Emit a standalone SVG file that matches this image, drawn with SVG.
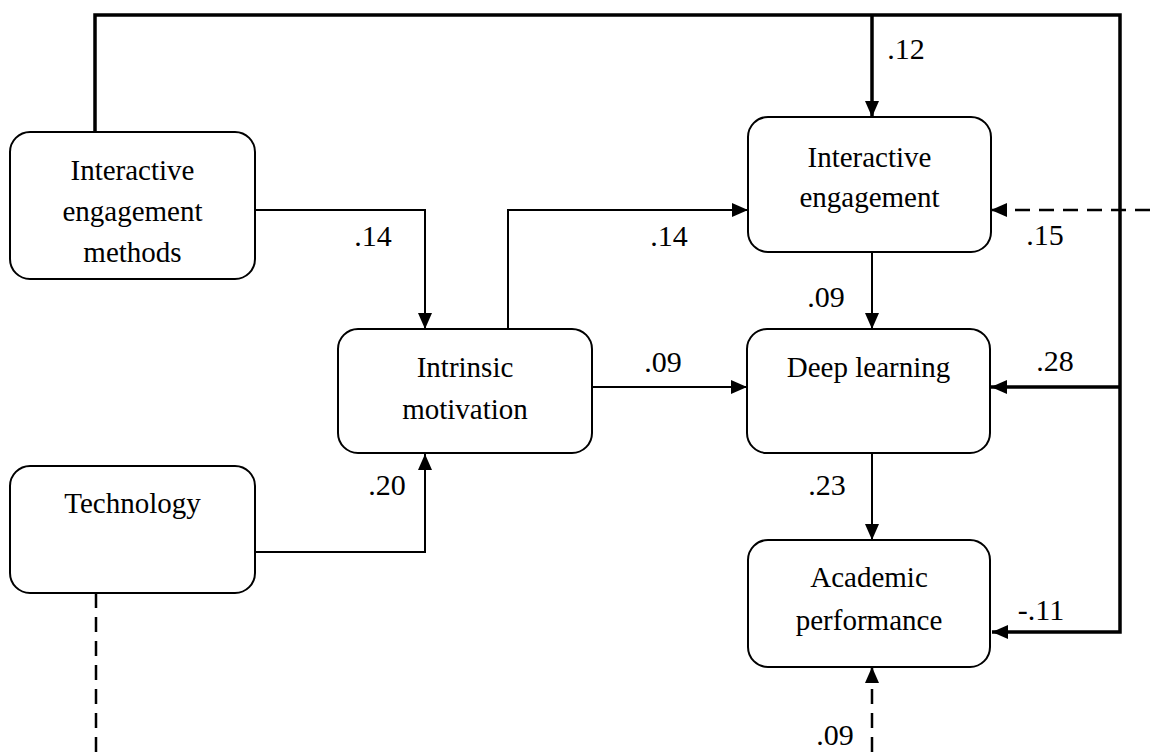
<svg xmlns="http://www.w3.org/2000/svg" width="1150" height="752" viewBox="0 0 1150 752">
<style>
.box{fill:#fff;stroke:#000;stroke-width:2}
.t{font-family:"Liberation Serif","Times New Roman",serif;font-size:29px;fill:#000;text-anchor:middle}
.l{font-family:"Liberation Serif","Times New Roman",serif;font-size:30px;fill:#000;text-anchor:middle}
.thin{fill:none;stroke:#000;stroke-width:2}
.thick{fill:none;stroke:#000;stroke-width:3.5}
.dash{fill:none;stroke:#000;stroke-width:2.5;stroke-dasharray:15 9}
</style>
<defs>
<marker id="ah" markerUnits="userSpaceOnUse" markerWidth="16" markerHeight="14" refX="16" refY="7" orient="auto">
<path d="M0,0 L16,7 L0,14 z" fill="#000"/>
</marker>
</defs>
<rect width="1150" height="752" fill="#fff"/>
<g id="connectors">
<path class="thick" d="M95,132 V15 H1120 V632 H992" marker-end="url(#ah)"/>
<path class="thick" d="M872,15 V117" marker-end="url(#ah)"/>
<path class="thick" d="M1120,387 H991" marker-end="url(#ah)"/>
<path class="dash" d="M1150,210 H991" marker-end="url(#ah)"/>
<path class="thin" d="M255,210 H425 V329" marker-end="url(#ah)"/>
<path class="thin" d="M255,552 H425 V454" marker-end="url(#ah)"/>
<path class="thin" d="M508,329 V210 H748" marker-end="url(#ah)"/>
<path class="thin" d="M592,387 H747" marker-end="url(#ah)"/>
<path class="thin" d="M872,252 V329" marker-end="url(#ah)"/>
<path class="thin" d="M872,453 V540" marker-end="url(#ah)"/>
<path class="dash" d="M96,593 V752"/>
<path class="dash" d="M872,752 V667" marker-end="url(#ah)"/>
<text class="l" x="906" y="59">.12</text>
<text class="l" x="373" y="246">.14</text>
<text class="l" x="669" y="246">.14</text>
<text class="l" x="1045" y="245">.15</text>
<text class="l" x="826" y="307">.09</text>
<text class="l" x="663" y="372">.09</text>
<text class="l" x="1055" y="371">.28</text>
<text class="l" x="387" y="495">.20</text>
<text class="l" x="827" y="495">.23</text>
<text class="l" x="1041" y="620">-.11</text>
<text class="l" x="835" y="745">.09</text>
</g>
<g id="iem">
<rect class="box" x="10" y="132" width="245" height="147" rx="20"/>
<text class="t" x="132.5" y="180">Interactive</text>
<text class="t" x="132.5" y="221">engagement</text>
<text class="t" x="132.5" y="262">methods</text>
</g>
<g id="technology">
<rect class="box" x="10" y="466" width="245" height="127" rx="20"/>
<text class="t" x="132.5" y="513">Technology</text>
</g>
<g id="intrinsic">
<rect class="box" x="338" y="329" width="254" height="124" rx="20"/>
<text class="t" x="465" y="377">Intrinsic</text>
<text class="t" x="465" y="419">motivation</text>
</g>
<g id="ie">
<rect class="box" x="748" y="117" width="243" height="135" rx="20"/>
<text class="t" x="869.5" y="167">Interactive</text>
<text class="t" x="869.5" y="207">engagement</text>
</g>
<g id="dl">
<rect class="box" x="747" y="329" width="243" height="124" rx="20"/>
<text class="t" x="868.5" y="377">Deep learning</text>
</g>
<g id="ap">
<rect class="box" x="748" y="540" width="242" height="127" rx="20"/>
<text class="t" x="869" y="587">Academic</text>
<text class="t" x="869" y="630">performance</text>
</g>
</svg>
